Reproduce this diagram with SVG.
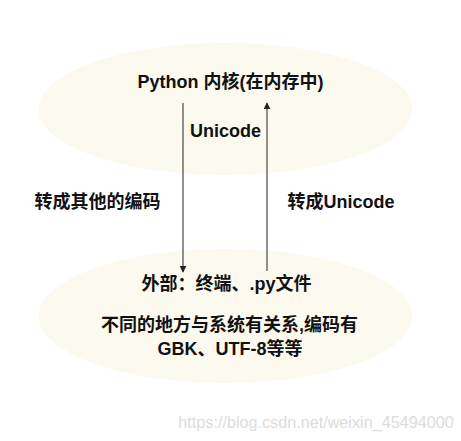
<svg xmlns="http://www.w3.org/2000/svg" width="461" height="441" viewBox="0 0 461 441">
<defs>
<style>
.ell{fill:#fcf9ef;stroke:none}
.t{font-family:"Liberation Sans","Noto Sans CJK SC",sans-serif;font-weight:bold;font-size:18px;fill:#111;text-anchor:middle}
.wm{font-family:"Liberation Sans",sans-serif;font-size:16.2px;fill:#dcdcdc;text-anchor:middle}
.ln{stroke:#555;stroke-width:1.3;fill:none}
</style>
<marker id="ah" viewBox="0 0 10 10" refX="9" refY="5" markerWidth="7" markerHeight="7" markerUnits="userSpaceOnUse" orient="auto"><path d="M0,0 L10,5 L0,10 z" fill="#222"/></marker>
</defs>
<rect width="461" height="441" fill="#fff"/>
<g id="core">
<ellipse class="ell" cx="225.5" cy="109" rx="187" ry="66"/>
<text class="t" x="230.5" y="88">Python 内核(在内存中)</text>
</g>
<g id="external">
<ellipse class="ell" cx="225.5" cy="316" rx="187" ry="67"/>
<text class="t" x="226.5" y="290">外部：终端、.py文件</text>
<text class="t" x="229.5" y="331">不同的地方与系统有关系,编码有</text>
<text class="t" x="230" y="355">GBK、UTF-8等等</text>
</g>
<g id="connectors">
<line class="ln" x1="183" y1="103" x2="183" y2="272" marker-end="url(#ah)"/>
<line class="ln" x1="267" y1="271" x2="267" y2="103" marker-end="url(#ah)"/>
</g>
<g id="labels">
<text class="t" x="225.5" y="137">Unicode</text>
<text class="t" x="97.5" y="208">转成其他的编码</text>
<text class="t" x="341" y="208">转成Unicode</text>
</g>
<text class="wm" x="316" y="428">https://blog.csdn.net/weixin_45494000</text>
</svg>
